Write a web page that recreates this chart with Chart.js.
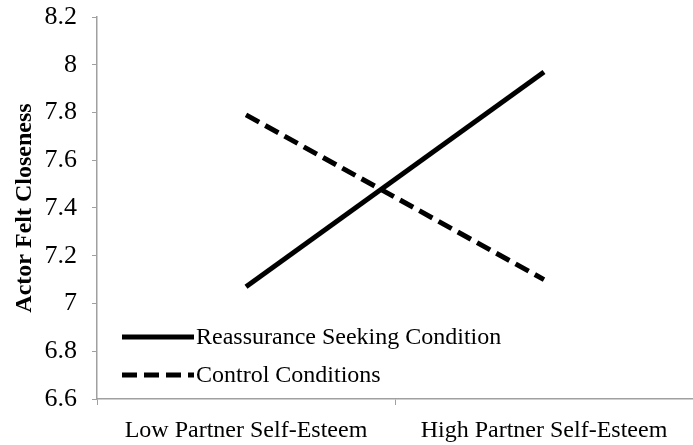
<!DOCTYPE html>
<html>
<head>
<meta charset="utf-8">
<script src="https://cdn.jsdelivr.net/npm/chart.js@4/dist/chart.umd.min.js"></script>
<style>
html, body { margin: 0; padding: 0; background: #fff; }
#wrap { width: 693px; height: 445px; }
</style>
</head>
<body>
<div id="wrap"><canvas id="closeness"></canvas></div>
<script>
var categories = ["Low Partner Self-Esteem", "High Partner Self-Esteem"];
var reassurance = [7.07, 7.97];
var control = [7.79, 7.10];
var seriesNames = ["Reassurance Seeking Condition", "Control Conditions"];

var serif = "'Liberation Serif', 'Times New Roman', serif";
var axisGrey = "#a0a0a0";

// legend drawn inside the plot, bottom-left, like the original
var insideLegend = {
    id: "insideLegend",
    afterDatasetsDraw: function (chart) {
        var ctx = chart.ctx;
        var area = chart.chartArea;
        var x0 = area.left + 25;
        var rows = [area.bottom - 62, area.bottom - 24];
        chart.data.datasets.forEach(function (ds, i) {
            var y = rows[i];
            ctx.save();
            ctx.strokeStyle = ds.borderColor;
            ctx.lineWidth = ds.borderWidth;
            ctx.setLineDash(ds.borderDash || []);
            ctx.beginPath();
            ctx.moveTo(x0, y);
            ctx.lineTo(x0 + 72, y);
            ctx.stroke();
            ctx.setLineDash([]);
            ctx.fillStyle = "#000";
            ctx.font = "24px " + serif;
            ctx.textBaseline = "middle";
            ctx.fillText(ds.label, x0 + 74, y + 1);
            ctx.restore();
        });
    }
};

var config = {
    type: "line",
    data: {
        labels: categories,
        datasets: [
            {
                label: seriesNames[0],
                data: reassurance,
                borderColor: "#000",
                borderWidth: 5,
                pointRadius: 0,
                fill: false
            },
            {
                label: seriesNames[1],
                data: control,
                borderColor: "#000",
                borderWidth: 5,
                borderDash: [15, 7],
                pointRadius: 0,
                fill: false
            }]
    },
    plugins: [insideLegend],
    options: {
        responsive: true,
        maintainAspectRatio: false,
        animation: false,
        layout: { padding: { top: 17, right: 0, left: 0, bottom: 0 } },
        plugins: {
            legend: { display: false },
            tooltip: { enabled: false }
        },
        scales: {
            x: {
                offset: true,
                grid: { display: true, drawOnChartArea: false, color: axisGrey, tickLength: 6, offset: true },
                border: { color: axisGrey, width: 1.5 },
                ticks: { color: "#000", font: { family: serif, size: 24 }, padding: 11, maxRotation: 0 },
                afterFit: function (scale) {
                    scale.height = 46;
                    scale.paddingLeft = 0;
                    scale.paddingRight = 0;
                }
            },
            y: {
                min: 6.6,
                max: 8.2,
                ticks: {
                    stepSize: 0.2,
                    color: "#000",
                    font: { family: serif, size: 26 },
                    padding: 15,
                    callback: function (v) { return parseFloat(v.toFixed(1)).toString(); }
                },
                grid: { display: true, drawOnChartArea: false, color: axisGrey, tickLength: 5 },
                border: { color: axisGrey, width: 1.5 },
                title: {
                    display: true,
                    text: "Actor Felt Closeness",
                    color: "#000",
                    font: { family: serif, size: 24, weight: "bold" },
                    padding: { top: 10, bottom: 2 }
                },
                afterFit: function (scale) {
                    scale.width = 97;
                    scale.paddingTop = 0;
                    scale.paddingBottom = 0;
                }
            }
        }
    }
};
var closenessChart = new Chart(document.getElementById("closeness"), config);
</script>
</body>
</html>
